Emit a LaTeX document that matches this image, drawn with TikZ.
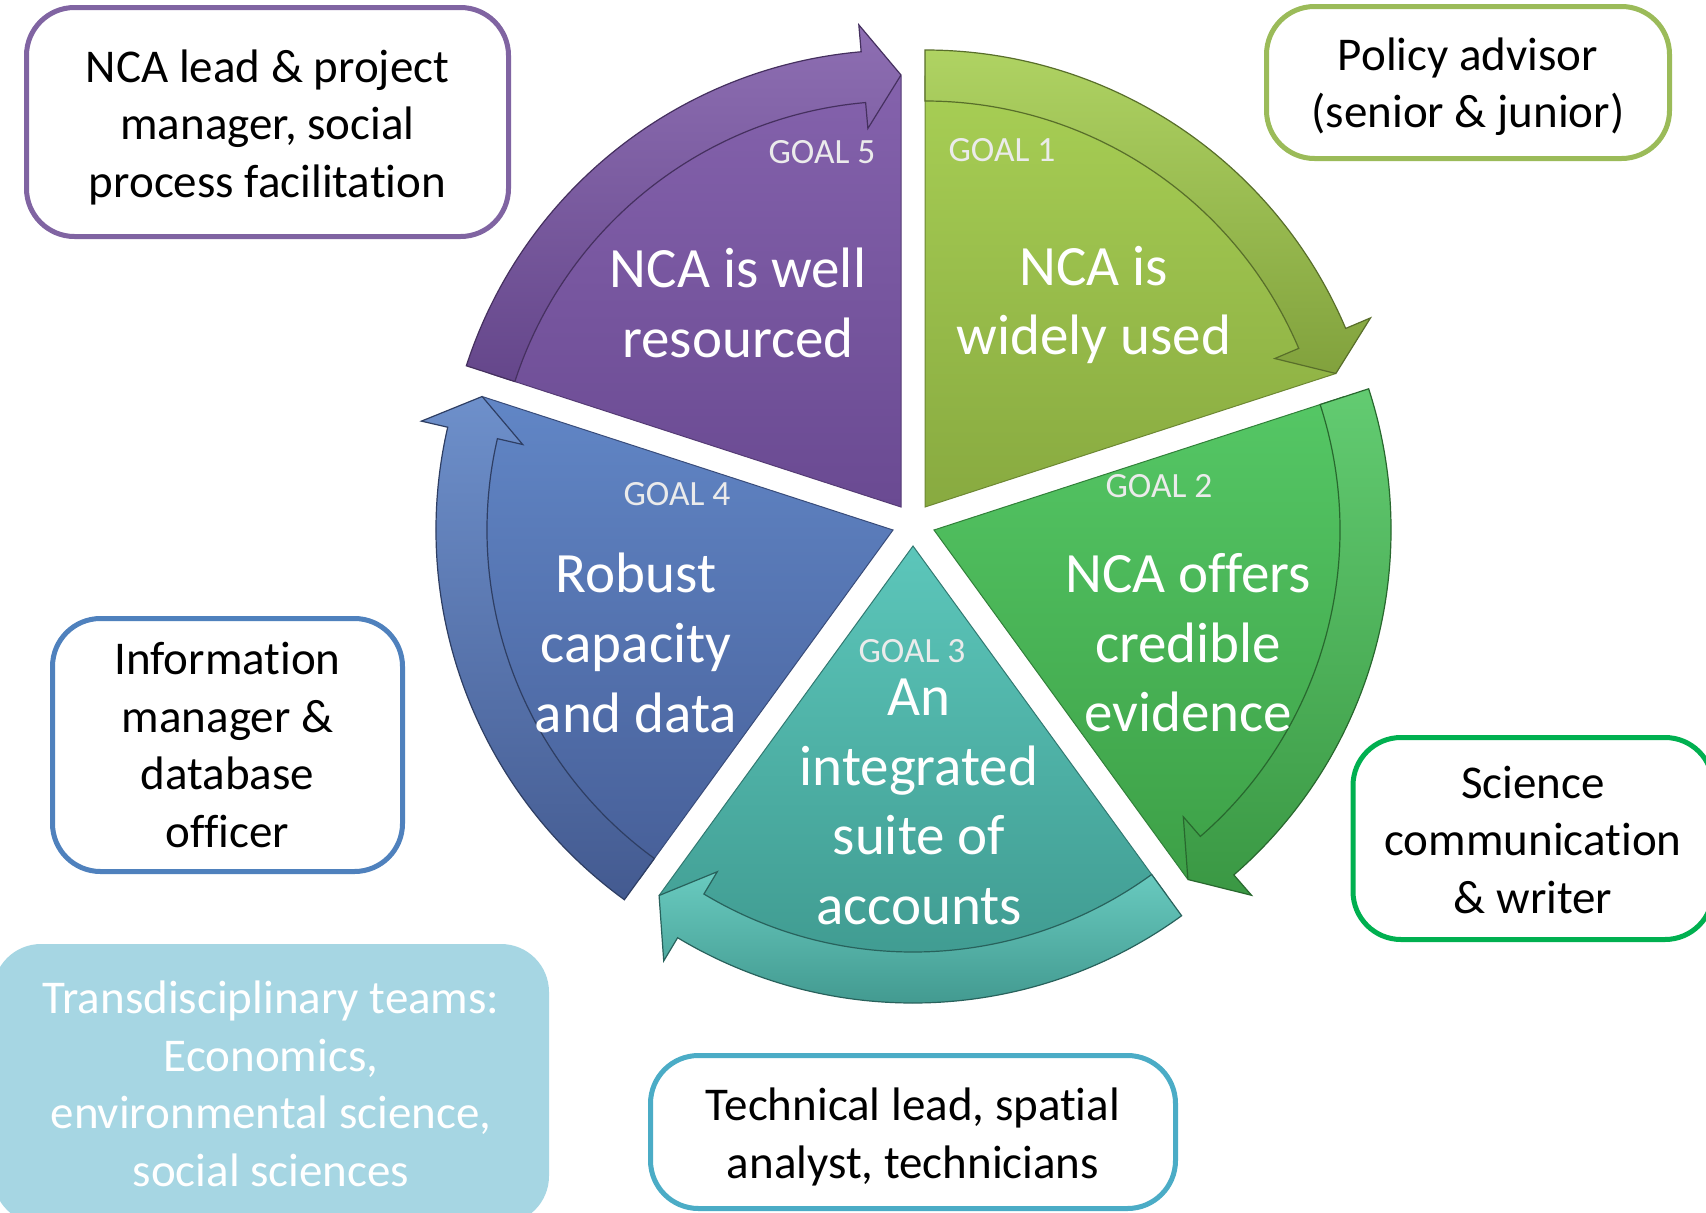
\documentclass[tikz,border=0pt]{standalone}
\usepackage{fontspec}
\setmainfont{Carlito}[Ligatures=NoCommon]
\definecolor{purpT}{HTML}{8462AC}\definecolor{purpB}{HTML}{6A4A92}
\definecolor{limeT}{HTML}{A8CF55}\definecolor{limeB}{HTML}{88AA40}
\definecolor{grnT}{HTML}{55C765}\definecolor{grnB}{HTML}{3DA047}
\definecolor{tealT}{HTML}{5CC6BA}\definecolor{tealB}{HTML}{3D978D}
\definecolor{blueT}{HTML}{6186C6}\definecolor{blueB}{HTML}{475F98}
\definecolor{bpurp}{HTML}{8064A2}\definecolor{blime}{HTML}{9BBB59}
\definecolor{bblue}{HTML}{4F81BD}\definecolor{bgreen}{HTML}{00B050}
\definecolor{bteal}{HTML}{4BACC6}\definecolor{transfill}{HTML}{A6D6E3}
\newcommand\goalseg[4]{%
  \begin{scope}[shift={(#1,#2)}]
    \pgfmathsetmacro\ta{#3}
    \pgfmathsetmacro\ha{#3-72}
    \pgfmathsetmacro\hb{#3-67}
    \shade[top color=#4T, bottom color=#4B, draw=#4B!80!black, line width=1pt]
      (0,0) -- (\ta:431pt) arc[start angle=\ta, end angle=\ha, radius=431pt] -- cycle;
    \shade[top color=#4T!92!white, bottom color=#4B!95!black, draw=#4B!65!black, line width=1.2pt]
      (\ta:457pt) arc[start angle=\ta, end angle=\hb, radius=457pt]
      -- (\hb:484pt) -- (\ha:432pt) -- (\hb:380pt) -- (\hb:406pt)
      arc[start angle=\hb, end angle=\ta, radius=406pt] -- cycle;
  \end{scope}}
\tikzset{
  rolebox/.style={draw, line width=5pt, rounded corners=48pt, fill=white, inner sep=0pt},
  roletext/.style={align=center, font=\fontsize{47}{57.5}\selectfont, text=black, inner sep=0pt},
  goaltext/.style={align=center, text=white, font=\fontsize{57}{69.6}\selectfont, inner sep=0pt},
  goallabel/.style={text=white!92!black, font=\fontsize{35.5}{40}\selectfont, inner sep=0pt}
}
\begin{document}
\begin{tikzpicture}[x=1pt,y=1pt]
\useasboundingbox (0,0) rectangle (1706,-1213);
\clip (0,0) rectangle (1706,-1213);
\fill[white] (0,0) rectangle (1706,-1213);
% segments
\goalseg{901}{-507}{162}{purp}
\goalseg{925}{-507}{90}{lime}
\goalseg{934}{-530}{18}{grn}
\goalseg{913}{-546}{-54}{teal}
\goalseg{893}{-530}{234}{blue}
% goal labels
\node[goallabel] (g5) at (822,-152) {GOAL 5};
\node[goallabel] (g1) at (1002,-150) {GOAL 1};
\node[goallabel] (g2) at (1159,-486) {GOAL 2};
\node[goallabel] (g3) at (912,-651) {GOAL 3};
\node[goallabel] (g4) at (677,-494) {GOAL 4};
% goal texts
\node[goaltext] (t5) at (738,-303) {NCA is well\\resourced};
\node[goaltext] (t1) at (1094,-305) {NCA is\\widely used};
\node[goaltext] (t2) at (1188,-643) {NCA offers\\credible\\evidence};
\node[goaltext] (t3) at (919,-802) {An\\integrated\\suite of\\accounts};
\node[goaltext] (t4) at (636,-643) {Robust\\capacity\\and data};
% role boxes
\node[rolebox, draw=bpurp, minimum width=482pt, minimum height=229pt] (b1) at (267.5,-122) {};
\node[roletext] (r1) at ([yshift=-5pt]b1.center) {NCA lead \& project\\manager, social\\process facilitation};
\node[rolebox, draw=blime, minimum width=403pt, minimum height=152pt] (b2) at (1468,-82.5) {};
\node[roletext] (r2) at ([yshift=-4pt]b2.center) {Policy advisor\\(senior \& junior)};
\node[rolebox, draw=bblue, minimum width=350pt, minimum height=253pt] (b3) at (227.5,-745) {};
\node[roletext] (r3) at (b3.center) {Information\\manager \&\\database\\officer};
\node[rolebox, draw=bgreen, minimum width=360pt, minimum height=202pt] (b4) at (1533,-838.5) {};
\node[roletext] (r4) at ([yshift=-1pt]b4.center) {Science\\communication\\\& writer};
\node[rolebox, draw=bteal, minimum width=525pt, minimum height=153pt] (b5) at (913,-1132) {};
\node[roletext] (r5) at ([yshift=-5pt]b5.center) {Technical lead, spatial\\analyst, technicians};
\node[rolebox, draw=none, fill=transfill, minimum width=556pt, minimum height=280pt] (b6) at (271,-1084) {};
\node[roletext, text=white] (r6) at (b6.center) {Transdisciplinary teams:\\Economics,\\environmental science,\\social sciences};
\end{tikzpicture}
\end{document}
